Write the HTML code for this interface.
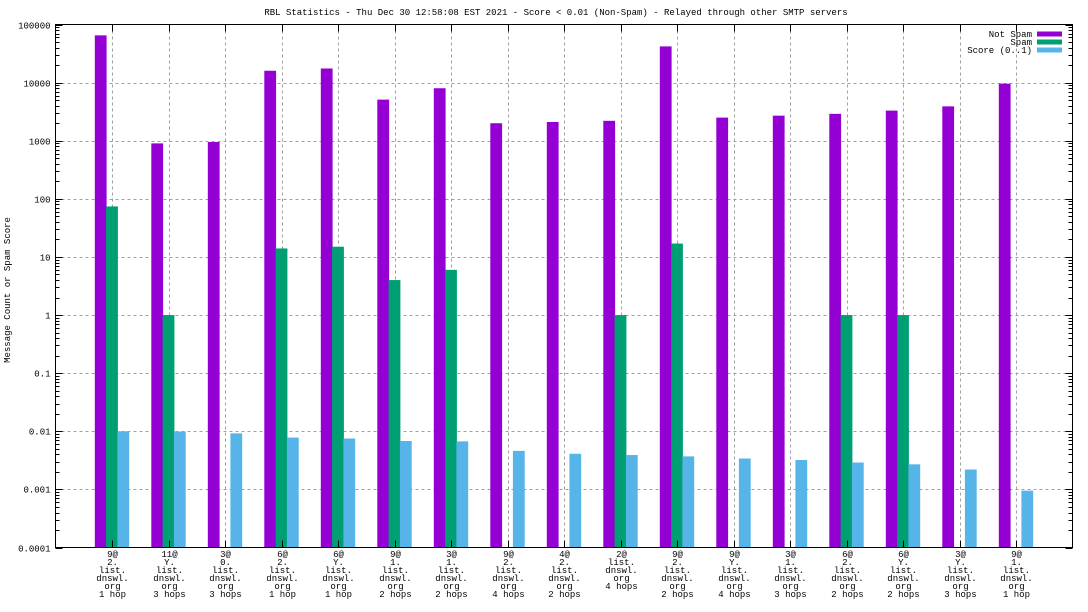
<!DOCTYPE html>
<html><head><meta charset="utf-8"><style>
html,body{margin:0;padding:0;background:#fff;}
svg{display:block;font-family:"Liberation Mono",monospace;font-size:9px;}
</style></head><body>
<svg id="chart" width="1088" height="612" viewBox="0 0 1088 612" xmlns="http://www.w3.org/2000/svg">
<rect width="1088" height="612" fill="#fff"/>
<text x="556" y="15" text-anchor="middle">RBL Statistics - Thu Dec 30 12:58:08 EST 2021 - Score &lt; 0.01 (Non-Spam) - Relayed through other SMTP servers</text>
<text transform="translate(10,290) rotate(-90)" text-anchor="middle">Message Count or Spam Score</text>
<g id="grid"></g><g id="bars"></g><g id="axes"></g><g id="legend"></g>
</svg>
<script>
const categories = [
 ["9@","2.","list.","dnswl.","org","1 hop"],
 ["11@","Y.","list.","dnswl.","org","3 hops"],
 ["3@","0.","list.","dnswl.","org","3 hops"],
 ["6@","2.","list.","dnswl.","org","1 hop"],
 ["6@","Y.","list.","dnswl.","org","1 hop"],
 ["9@","1.","list.","dnswl.","org","2 hops"],
 ["3@","1.","list.","dnswl.","org","2 hops"],
 ["9@","2.","list.","dnswl.","org","4 hops"],
 ["4@","2.","list.","dnswl.","org","2 hops"],
 ["2@","list.","dnswl.","org","4 hops"],
 ["9@","2.","list.","dnswl.","org","2 hops"],
 ["9@","Y.","list.","dnswl.","org","4 hops"],
 ["3@","1.","list.","dnswl.","org","3 hops"],
 ["6@","2.","list.","dnswl.","org","2 hops"],
 ["6@","Y.","list.","dnswl.","org","2 hops"],
 ["3@","Y.","list.","dnswl.","org","3 hops"],
 ["9@","1.","list.","dnswl.","org","1 hop"]
];
const notSpam = [65000,900,950,16000,17500,5100,8000,2000,2100,2200,42000,2500,2700,2900,3300,3900,9600];
const spam = [74,1,0,14,15,4,6,0,0,1,17,0,0,1,1,0,0];
const score = [0.0100,0.0099,0.0092,0.0078,0.0075,0.0068,0.0067,0.0046,0.0041,0.0039,0.0037,0.0034,0.0032,0.0029,0.0027,0.0022,0.00095];
const yTickLabels = ["0.0001","0.001","0.01","0.1","1","10","100","1000","10000","100000"];
const seriesNames = ["Not Spam","Spam","Score (0..1)"];
const colors = ["#9400d3","#009e73","#56b4e9"];

const L=55.5,R=1072.5,T=24.5,B=547.5;
const NS="http://www.w3.org/2000/svg";
function y(v){return B-(Math.log10(v)+4)*(B-T)/9;}
function x(i){return 112+i*56.5;}
function mk(tag,attrs,parent){const e=document.createElementNS(NS,tag);for(const k in attrs)e.setAttribute(k,attrs[k]);parent.appendChild(e);return e;}
const grid=document.getElementById('grid'),bars=document.getElementById('bars'),axes=document.getElementById('axes'),leg=document.getElementById('legend');

// y grid + ticks
yTickLabels.forEach((lab,k)=>{
 const v=parseFloat(lab),yy=Math.round(y(v))+0.5;
 if(k>0&&k<yTickLabels.length-1){const g=mk('line',{x1:L,x2:R,y1:yy,y2:yy,stroke:'#a0a0a0','stroke-dasharray':'3,3'},grid);
 
 }
 const t=mk('text',{x:L-5,y:yy+3,'text-anchor':'end'},axes);t.textContent=lab;
 
 
 mk('line',{x1:L,x2:L+7,y1:yy,y2:yy,stroke:'#000'},axes);
 mk('line',{x1:R,x2:R-7,y1:yy,y2:yy,stroke:'#000'},axes);
 if(k<yTickLabels.length-1){for(let m=2;m<10;m++){const ym=Math.round(y(v*m))+0.5;
  mk('line',{x1:L,x2:L+4,y1:ym,y2:ym,stroke:'#000'},axes);
  mk('line',{x1:R,x2:R-4,y1:ym,y2:ym,stroke:'#000'},axes);}}
});
// x grid + labels
categories.forEach((c,i)=>{
 const xx=Math.round(x(i))+0.5;
 const g=mk('line',{x1:xx,x2:xx,y1:T,y2:B,stroke:'#a0a0a0','stroke-dasharray':'3,3'},grid);
 
 
 mk('line',{x1:xx,x2:xx,y1:B,y2:B-7,stroke:'#000'},axes);
 mk('line',{x1:xx,x2:xx,y1:T,y2:T+7,stroke:'#000'},axes);
 const t=mk('text',{x:xx,y:557,'text-anchor':'middle'},axes);
 
 
 c.forEach((ln,j)=>{const s=mk('tspan',{x:xx,dy:j?8:0},t);s.textContent=ln;});
});
// bars
const series=[notSpam,spam,score];
series.forEach((arr,s)=>{
 arr.forEach((v,i)=>{
  if(!(v>0))return;
  const cx=x(i)+(s-1)*11.3, top=y(v);
  const r=mk('rect',{x:cx-5.9,y:top,width:11.8,height:B-top,fill:colors[s]},bars);
  
  
 });
});
// frame
mk('rect',{x:L,y:T,width:R-L,height:B-T,fill:'none',stroke:'#000'},axes);
// legend
seriesNames.forEach((n,k)=>{
 const yy=34+k*8;
 const t=mk('text',{x:1032,y:yy+3,'text-anchor':'end'},leg);t.textContent=n;
 
 
 const r=mk('rect',{x:1037,y:yy-2.5,width:25,height:5,fill:colors[k]},leg);
 
 
});
</script>
</body></html>
